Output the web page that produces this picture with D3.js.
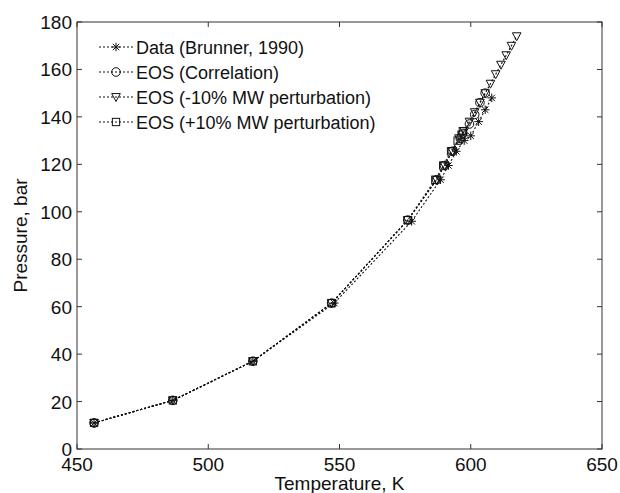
<!DOCTYPE html>
<html>
<head>
<meta charset="UTF-8">
<title>Pressure vs Temperature</title>
<script src="https://d3js.org/d3.v7.min.js"></script>
<style>
  body { margin: 0; background: #fff; }
  text { font-family: Arial, "Liberation Sans", sans-serif; fill: #111; }
</style>
</head>
<body>
<svg width="620" height="493"></svg>
<script>
// measured data (Brunner, 1990)
const dataT = [456.5, 486.5, 517, 548, 577.5, 588.5, 591.5, 594.5, 597.5, 600, 603, 605.5, 608];
const dataP = [11, 20.5, 37, 61.5, 96, 113.5, 119.5, 125.5, 130, 132, 138, 143, 148];

// EOS with correlation
const corrT = [456.5, 486.5, 517, 547, 576, 587, 590, 593, 596, 597, 599.5, 601.5, 603.5, 605.5];
const corrP = [11, 20.5, 37, 61.5, 96.5, 113.5, 119.5, 125.5, 131, 133, 137, 141, 146, 150];

// EOS, -10% MW
const minusT = [456.5, 486.5, 517, 547, 576, 587, 590, 593, 595.5, 597.5, 599.5, 601.5, 603.5, 605.5, 607.5, 609.5, 611.5, 613.5, 615.5, 617.5];
const minusP = [11, 20.5, 37, 61.5, 96.5, 113.5, 119.5, 125.5, 131, 134, 138, 142, 146, 150, 154, 158, 162, 166, 170, 174];

// EOS, +10% MW
const plusT = [456.5, 486.5, 517, 547, 576, 586.5, 589.5, 592.5, 595, 596.5, 597];
const plusP = [11, 20.5, 37, 61.5, 96.5, 113.5, 119.5, 125.5, 130, 132.5, 134];

const xTicks = [450, 500, 550, 600, 650];
const yTicks = [0, 20, 40, 60, 80, 100, 120, 140, 160, 180];
const legendLabels = ["Data (Brunner, 1990)", "EOS (Correlation)", "EOS (-10% MW perturbation)", "EOS (+10% MW perturbation)"];

const series = [
    { T: dataT, P: dataP, marker: "star" },
    { T: corrT, P: corrP, marker: "circle" },
    { T: minusT, P: minusP, marker: "tri" },
    { T: plusT, P: plusP, marker: "square" }
];

const svg = d3.select("svg");
const mLeft = 77, mRight = 602, mTop = 22, mBottom = 449;
const ink = "#111";

const x = d3.scaleLinear().domain([450, 650]).range([mLeft, mRight]);
const y = d3.scaleLinear().domain([0, 180]).range([mBottom, mTop]);

// marker shapes
function drawMarker(g, kind, cx, cy) {
    const s = 4.3;
    if (kind === "star") {
        const p = g.append("g").attr("stroke", ink).attr("stroke-width", 1);
        p.append("line").attr("x1", cx - s).attr("x2", cx + s).attr("y1", cy).attr("y2", cy);
        p.append("line").attr("x1", cx).attr("x2", cx).attr("y1", cy - s).attr("y2", cy + s);
        p.append("line").attr("x1", cx - s * 0.75).attr("x2", cx + s * 0.75).attr("y1", cy - s * 0.75).attr("y2", cy + s * 0.75);
        p.append("line").attr("x1", cx - s * 0.75).attr("x2", cx + s * 0.75).attr("y1", cy + s * 0.75).attr("y2", cy - s * 0.75);
    } else if (kind === "circle") {
        g.append("circle").attr("cx", cx).attr("cy", cy).attr("r", s)
            .attr("fill", "none").attr("stroke", ink).attr("stroke-width", 1);
    } else if (kind === "tri") {
        g.append("path")
            .attr("d", `M${cx - s},${cy - s * 0.8}L${cx + s},${cy - s * 0.8}L${cx},${cy + s * 1.05}Z`)
            .attr("fill", "none").attr("stroke", ink).attr("stroke-width", 1);
    } else {
        g.append("rect").attr("x", cx - s * 0.85).attr("y", cy - s * 0.85)
            .attr("width", s * 1.7).attr("height", s * 1.7)
            .attr("fill", "none").attr("stroke", ink).attr("stroke-width", 1);
    }
}

// lines + markers
const line = d3.line().x(d => x(d[0])).y(d => y(d[1]));
const plot = svg.append("g");
series.forEach(s => {
    const pts = s.T.map((t, i) => [t, s.P[i]]);
    plot.append("path").datum(pts)
        .attr("d", line)
        .attr("fill", "none")
        .attr("stroke", ink)
        .attr("stroke-width", 1.1)
        .attr("stroke-dasharray", "2,2");
    const mg = plot.append("g");
    pts.forEach(p => drawMarker(mg, s.marker, x(p[0]), y(p[1])));
});

// axes box with inward ticks (all four sides)
const axisColor = "#333";
svg.append("rect").attr("x", mLeft).attr("y", mTop)
    .attr("width", mRight - mLeft).attr("height", mBottom - mTop)
    .attr("fill", "none").attr("stroke", axisColor).attr("stroke-width", 1);

const tickLen = 5;
const ax = svg.append("g");
xTicks.forEach(t => {
    ax.append("line").attr("x1", x(t)).attr("x2", x(t)).attr("y1", mBottom).attr("y2", mBottom - tickLen).attr("stroke", axisColor);
    ax.append("line").attr("x1", x(t)).attr("x2", x(t)).attr("y1", mTop).attr("y2", mTop + tickLen).attr("stroke", axisColor);
    ax.append("text").attr("x", x(t)).attr("y", mBottom + 22)
        .attr("text-anchor", "middle").attr("font-size", 19).text(t);
});
yTicks.forEach(t => {
    ax.append("line").attr("x1", mLeft).attr("x2", mLeft + tickLen).attr("y1", y(t)).attr("y2", y(t)).attr("stroke", axisColor);
    ax.append("line").attr("x1", mRight).attr("x2", mRight - tickLen).attr("y1", y(t)).attr("y2", y(t)).attr("stroke", axisColor);
    ax.append("text").attr("x", mLeft - 5).attr("y", y(t) + 7)
        .attr("text-anchor", "end").attr("font-size", 19).text(t);
});

// axis titles
svg.append("text").attr("x", (mLeft + mRight) / 2).attr("y", 490)
    .attr("text-anchor", "middle").attr("font-size", 19).text("Temperature, K");
svg.append("text")
    .attr("transform", `translate(27,${(mTop + mBottom) / 2}) rotate(-90)`)
    .attr("text-anchor", "middle").attr("font-size", 19).text("Pressure, bar");

// legend (no box)
const leg = svg.append("g");
legendLabels.forEach((lab, i) => {
    const ly = 47 + i * 25;
    leg.append("line").attr("x1", 99).attr("x2", 133).attr("y1", ly).attr("y2", ly)
        .attr("stroke", ink).attr("stroke-width", 1.1).attr("stroke-dasharray", "2,2");
    drawMarker(leg, series[i].marker, 116, ly);
    leg.append("text").attr("x", 136).attr("y", ly + 6.5)
        .attr("font-size", 18).text(lab);
});
</script>
</body>
</html>
